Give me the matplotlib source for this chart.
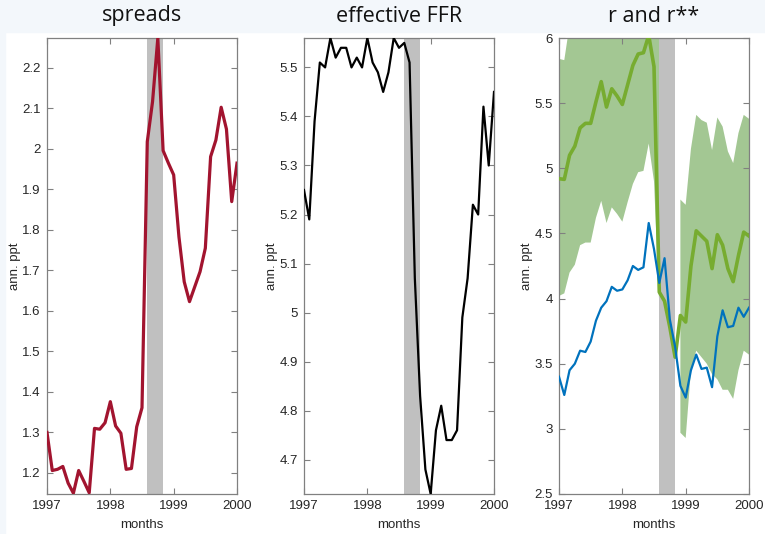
import numpy as np
import matplotlib.pyplot as plt
import matplotlib.patches as patches

plt.rcParams['font.family'] = ['Liberation Sans', 'DejaVu Sans']

# monthly observations, Jan 1997 .. Jan 2000
months = 1997 + np.arange(37) / 12.0
crisis = (1998 + 7 / 12.0, 1998 + 10 / 12.0)

spreads = [1.30, 1.206, 1.209, 1.216, 1.175, 1.150, 1.206, 1.179, 1.151, 1.310, 1.308, 1.324,
           1.376, 1.316, 1.298, 1.209, 1.211, 1.314, 1.361, 2.018, 2.117, 2.274, 1.996, 1.965,
           1.936, 1.783, 1.672, 1.623, 1.660, 1.697, 1.755, 1.981, 2.022, 2.103, 2.049, 1.870,
           1.965]

ffr = [5.25, 5.19, 5.39, 5.51, 5.50, 5.56, 5.52, 5.54, 5.54, 5.50, 5.52, 5.50,
       5.56, 5.51, 5.49, 5.45, 5.49, 5.56, 5.54, 5.55, 5.51, 5.07, 4.83, 4.68,
       4.63, 4.76, 4.81, 4.74, 4.74, 4.76, 4.99, 5.07, 5.22, 5.20, 5.42, 5.30,
       5.45]

r_obs = [3.40, 3.26, 3.45, 3.50, 3.60, 3.59, 3.67, 3.83, 3.93, 3.98, 4.09, 4.06,
         4.07, 4.14, 4.25, 4.22, 4.24, 4.58, 4.38, 4.12, 4.31, 3.84, 3.63, 3.33,
         3.24, 3.45, 3.57, 3.46, 3.47, 3.32, 3.71, 3.91, 3.78, 3.79, 3.93, 3.86,
         3.93]

r_star = [4.92, 4.915, 5.10, 5.17, 5.31, 5.345, 5.345, 5.51, 5.665, 5.47, 5.61, 5.555,
          5.49, 5.64, 5.79, 5.877, 5.887, 6.02, 5.78, 4.05, 3.98, 3.78, 3.55, 3.87,
          3.82, 4.25, 4.52, 4.48, 4.44, 4.23, 4.49, 4.41, 4.23, 4.13, 4.33, 4.51,
          4.48]

band_hi = [5.84, 5.83, 6.10, 6.25, 6.40, 6.45, 6.45, 6.60, 6.70, 6.55, 6.65, 6.60,
           6.55, 6.70, 6.85, 6.90, 6.90, 7.00, 6.80, 6.20, np.nan, np.nan, np.nan, 4.76,
           4.72, 5.15, 5.41, 5.37, 5.35, 5.14, 5.39, 5.32, 5.13, 5.04, 5.27, 5.41,
           5.38]

band_lo = [4.02, 4.04, 4.20, 4.26, 4.41, 4.43, 4.43, 4.62, 4.75, 4.58, 4.70, 4.65,
           4.59, 4.74, 4.88, 4.97, 4.98, 5.19, 4.90, 3.95, np.nan, np.nan, np.nan, 2.97,
           2.93, 3.45, 3.60, 3.55, 3.50, 3.42, 3.38, 3.30, 3.30, 3.23, 3.45, 3.60,
           3.57]

W, H = 765, 534
fig = plt.figure(figsize=(W / 100, H / 100), dpi=100)
fig.patch.set_facecolor('white')
# light header strip behind the titles
fig.patches.append(patches.Rectangle((0, 1 - 32 / H), 1, 32 / H, transform=fig.transFigure,
                                     color='#f3f7fb', zorder=0))
fig.patches.append(patches.Rectangle((0, 0), 5 / W, 1, transform=fig.transFigure,
                                     color='#f3f7fb', zorder=0))

lefts = [47, 304, 559]
label_x = [-0.135, -0.138, -0.136]
bottom, height, width = 40 / H, 456 / H, 190 / W
axes = [fig.add_axes([l / W, bottom, width, height]) for l in lefts]


def style(ax, i, title, yticks, ylabels):
    ax.set_xlim(1997, 2000)
    ax.set_xticks([1997, 1998, 1999, 2000])
    ax.set_yticks(yticks)
    ax.set_yticklabels(ylabels)
    ax.tick_params(direction='in', length=4, width=0.8, top=True, right=True,
                   labelsize=9.5, colors='#808080', labelcolor='#262626', pad=4.5)
    for s in ax.spines.values():
        s.set_color('#808080')
        s.set_linewidth(0.9)
    ax.set_xlabel('months', fontsize=9.5, color='#262626', labelpad=5)
    ax.set_ylabel('ann. ppt', fontsize=9.5, color='#262626')
    ax.yaxis.set_label_coords(label_x[i], 0.5)
    ax.axvspan(crisis[0], crisis[1], color='#c0c0c0', lw=0, zorder=2)
    fig.text(ax.get_position().x0 + width / 2, 1 - 16 / H, title, ha='center', va='center',
             fontsize=15.5, family=['Open Sans', 'DejaVu Sans'], color='#111111')


def fmt(v):
    return ('%.1f' % v).rstrip('0').rstrip('.')


ax1, ax2, ax3 = axes

ax1.plot(months, spreads, color='#a2142f', lw=2.3, zorder=3)
ax1.set_ylim(1.148, 2.274)
t1 = np.round(np.arange(1.2, 2.21, 0.1), 1)
style(ax1, 0, 'spreads', t1, [fmt(v) for v in t1])

ax2.plot(months, ffr, color='black', lw=1.6, zorder=3)
ax2.set_ylim(4.63, 5.56)
t2 = np.round(np.arange(4.7, 5.51, 0.1), 1)
style(ax2, 1, 'effective FFR', t2, [fmt(v) for v in t2])

ax3.fill_between(months, band_lo, band_hi, color='#a3c793', lw=0, zorder=1)
ax3.plot(months, r_star, color='#77ac30', lw=2.6, zorder=3)
ax3.plot(months, r_obs, color='#0072bd', lw=1.6, zorder=4)
ax3.set_ylim(2.5, 6)
t3 = np.arange(2.5, 6.01, 0.5)
style(ax3, 2, 'r and r**', t3, [fmt(v) for v in t3])

fig.savefig('out.png', dpi=100)
